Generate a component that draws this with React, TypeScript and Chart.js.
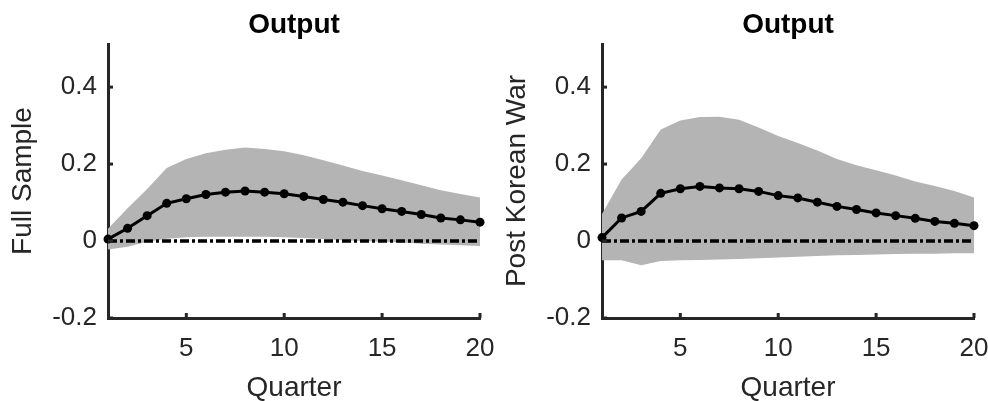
import React, { useEffect, useRef } from "react";
import { Chart, registerables } from "chart.js";

Chart.register(...registerables);

const quarters = [1, 2, 3, 4, 5, 6, 7, 8, 9, 10, 11, 12, 13, 14, 15, 16, 17, 18, 19, 20];
const zeroLine = [0, 0, 0, 0, 0, 0, 0, 0, 0, 0, 0, 0, 0, 0, 0, 0, 0, 0, 0, 0];

const fullLine = [0.005, 0.033, 0.066, 0.098, 0.11, 0.121, 0.127, 0.13, 0.127, 0.123, 0.116, 0.108, 0.101, 0.092, 0.084, 0.077, 0.069, 0.06, 0.055, 0.049];
const fullUpper = [0.032, 0.085, 0.135, 0.19, 0.213, 0.228, 0.237, 0.243, 0.239, 0.233, 0.223, 0.21, 0.196, 0.182, 0.17, 0.158, 0.145, 0.132, 0.122, 0.113];
const fullLower = [-0.022, -0.015, -0.002, 0.006, 0.01, 0.011, 0.011, 0.011, 0.011, 0.01, 0.008, 0.005, 0.002, 0, -0.002, -0.004, -0.007, -0.009, -0.011, -0.013];

const postLine = [0.009, 0.06, 0.077, 0.124, 0.136, 0.142, 0.138, 0.136, 0.129, 0.118, 0.112, 0.101, 0.09, 0.082, 0.073, 0.066, 0.059, 0.051, 0.046, 0.04];
const postUpper = [0.07, 0.16, 0.215, 0.29, 0.313, 0.322, 0.323, 0.315, 0.295, 0.273, 0.255, 0.235, 0.213, 0.197, 0.184, 0.17, 0.155, 0.143, 0.13, 0.113];
const postLower = [-0.05, -0.05, -0.063, -0.052, -0.05, -0.049, -0.048, -0.047, -0.045, -0.043, -0.041, -0.039, -0.037, -0.036, -0.035, -0.034, -0.033, -0.033, -0.032, -0.032];

const xTicks = [5, 10, 15, 20];
const yTicks = [-0.2, 0, 0.2, 0.4];
const yTickLabels = ["-0.2", "0", "0.2", "0.4"];

const titleText = "Output";
const xTitle = "Quarter";
const panelTitles = ["Full Sample", "Post Korean War"];

const FONT = "'Liberation Sans', Arial, Helvetica, sans-serif";
const AXIS = "#262626";
const BAND = "rgb(180,180,180)";

const inwardTicks = {
  id: "inwardTicks",
  afterDatasetsDraw(chart: any) {
    const { ctx, chartArea, scales } = chart;
    ctx.save();
    ctx.strokeStyle = AXIS;
    ctx.lineWidth = 3;
    for (const v of xTicks) {
      const px = scales.x.getPixelForValue(v);
      ctx.beginPath();
      ctx.moveTo(px, chartArea.bottom);
      ctx.lineTo(px, chartArea.bottom - 5);
      ctx.stroke();
    }
    for (const v of yTicks) {
      const py = scales.y.getPixelForValue(v);
      ctx.beginPath();
      ctx.moveTo(chartArea.left, py);
      ctx.lineTo(chartArea.left + 5, py);
      ctx.stroke();
    }
    ctx.restore();
  },
};

const toPts = (arr: number[]) => quarters.map((q, i) => ({ x: q, y: arr[i] }));

function Panel({ yTitle, line, upper, lower }: { yTitle: string; line: number[]; upper: number[]; lower: number[] }) {
  const ref = useRef<HTMLCanvasElement | null>(null);
  useEffect(() => {
    if (!ref.current) return;
    const chart = new Chart(ref.current, {
      type: "line",
      data: {
        datasets: [
          {
            data: toPts(line),
            borderColor: "#000",
            borderWidth: 3,
            pointRadius: 4.5,
            pointBackgroundColor: "#000",
            pointBorderWidth: 0,
            tension: 0,
            clip: false,
            fill: false,
          } as any,
          {
            data: toPts(zeroLine),
            borderColor: "#000",
            borderWidth: 3.5,
            borderDash: [9, 3, 3, 3],
            pointRadius: 0,
            fill: false,
          },
          {
            data: toPts(upper),
            borderWidth: 0,
            borderColor: "rgba(0,0,0,0)",
            pointRadius: 0,
            backgroundColor: BAND,
            fill: "+1",
          },
          {
            data: toPts(lower),
            borderWidth: 0,
            borderColor: "rgba(0,0,0,0)",
            pointRadius: 0,
            fill: false,
          },
        ],
      },
      options: {
        animation: false,
        responsive: false,
        layout: { padding: { left: 0, right: 14, top: 0, bottom: 0 } },
        plugins: {
          legend: { display: false },
          tooltip: { enabled: false },
          title: {
            display: true,
            text: titleText,
            fullSize: false,
            color: "#000",
            font: { family: FONT, size: 28, weight: "bold" },
            padding: { top: 8.2, bottom: 2.2 },
          },
        },
        scales: {
          x: {
            type: "linear",
            min: 1,
            max: 20,
            afterBuildTicks: (s: any) => {
              s.ticks = xTicks.map((v) => ({ value: v }));
            },
            afterFit: (s: any) => {
              s.height = 83;
              s.paddingLeft = 0;
              s.paddingRight = 0;
            },
            grid: { display: false, drawTicks: false, tickLength: 0 },
            border: { display: true, color: AXIS, width: 3 },
            ticks: {
              color: AXIS,
              font: { family: FONT, size: 26 },
              padding: 15,
              maxRotation: 0,
              autoSkip: false,
              callback: (v: any) => String(v),
            },
            title: {
              display: true,
              text: xTitle,
              color: AXIS,
              font: { family: FONT, size: 28 },
              padding: { top: 0, bottom: -3.8 },
            },
          },
          y: {
            type: "linear",
            min: -0.2,
            max: 0.512,
            afterBuildTicks: (s: any) => {
              s.ticks = yTicks.map((v) => ({ value: v }));
            },
            afterFit: (s: any) => {
              s.width = 108;
            },
            grid: { display: false, drawTicks: false, tickLength: 0 },
            border: { display: true, color: AXIS, width: 3 },
            ticks: {
              color: AXIS,
              font: { family: FONT, size: 26 },
              padding: 11,
              autoSkip: false,
              callback: (v: any) => {
                const i = yTicks.findIndex((t) => Math.abs(t - Number(v)) < 1e-9);
                return i >= 0 ? yTickLabels[i] : "";
              },
            },
            title: {
              display: true,
              text: yTitle,
              color: AXIS,
              font: { family: FONT, size: 28 },
              padding: { top: 6.7, bottom: 0 },
            },
          },
        },
      } as any,
      plugins: [inwardTicks],
    });
    return () => chart.destroy();
  }, [yTitle, line, upper, lower]);
  return <canvas ref={ref} width={494} height={401} style={{ width: 494, height: 401, display: "block" }} />;
}

export default function App() {
  return (
    <div style={{ position: "absolute", left: 0, top: 0, width: 988, height: 401, display: "flex", background: "#fff" }}>
      <Panel yTitle={panelTitles[0]} line={fullLine} upper={fullUpper} lower={fullLower} />
      <Panel yTitle={panelTitles[1]} line={postLine} upper={postUpper} lower={postLower} />
    </div>
  );
}
